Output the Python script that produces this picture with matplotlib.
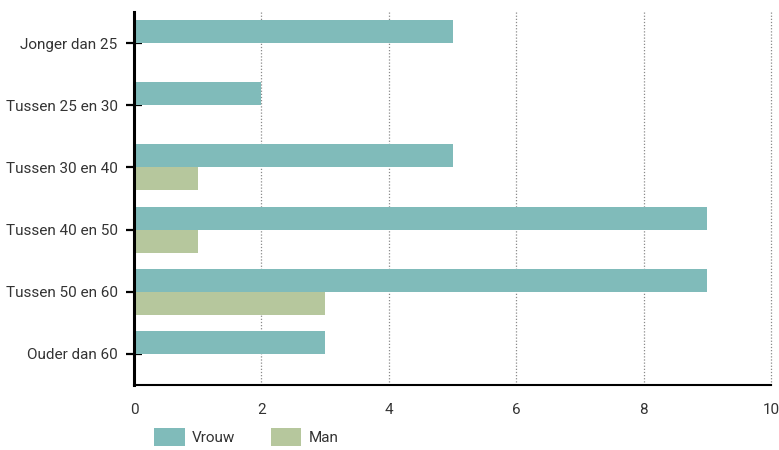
import matplotlib.pyplot as plt
import numpy as np

categorieen = ['Jonger dan 25', 'Tussen 25 en 30', 'Tussen 30 en 40',
               'Tussen 40 en 50', 'Tussen 50 en 60', 'Ouder dan 60']
vrouw = [5, 2, 5, 9, 9, 3]
man = [0, 0, 1, 1, 3, 0]
x_ticks = [0, 2, 4, 6, 8, 10]

kleur_vrouw = '#80BBBA'
kleur_man = '#B6C79D'

plt.rcParams['font.family'] = ['Roboto', 'DejaVu Sans']
plt.rcParams['font.size'] = 11

fig = plt.figure(figsize=(7.79, 4.5), dpi=100)
ax = fig.add_axes([134 / 779, 1 - 385 / 450, (771 - 134) / 779, (385 - 12) / 450])

y = np.arange(len(categorieen))
h = 0.37
ax.barh(y - h / 2, vrouw, height=h, color=kleur_vrouw, label='Vrouw', zorder=2)
ax.barh(y + h / 2, man, height=h, color=kleur_man, label='Man', zorder=2)

# gestippelde rasterlijnen
ax.vlines(x_ticks[1:], -0.5, len(categorieen) - 0.5, colors='#8a8a8a',
          linestyles=(0, (1, 1.5)), linewidth=0.9, zorder=1, clip_on=False)

ax.set_xlim(0, 10)
ax.set_ylim(len(categorieen) - 0.5, -0.5)
ax.set_xticks(x_ticks)
ax.set_yticks(y)
ax.set_yticklabels(categorieen, color='#333333')
ax.tick_params(axis='x', length=0, pad=13, colors='#333333')
ax.tick_params(axis='y', direction='inout', length=11.5, width=1.6, pad=6)

for s in ['top', 'right']:
    ax.spines[s].set_visible(False)
ax.spines['left'].set_linewidth(2.2)
ax.spines['bottom'].set_linewidth(1.5)

fig.legend(loc='center left', bbox_to_anchor=(154 / 779, 1 - 437 / 450), ncol=2,
           frameon=False, borderpad=0, borderaxespad=0, handlelength=2.0,
           handleheight=1.5, handletextpad=0.5, columnspacing=2.3,
           labelcolor='#333333')

plt.savefig('out.png', dpi=100)
